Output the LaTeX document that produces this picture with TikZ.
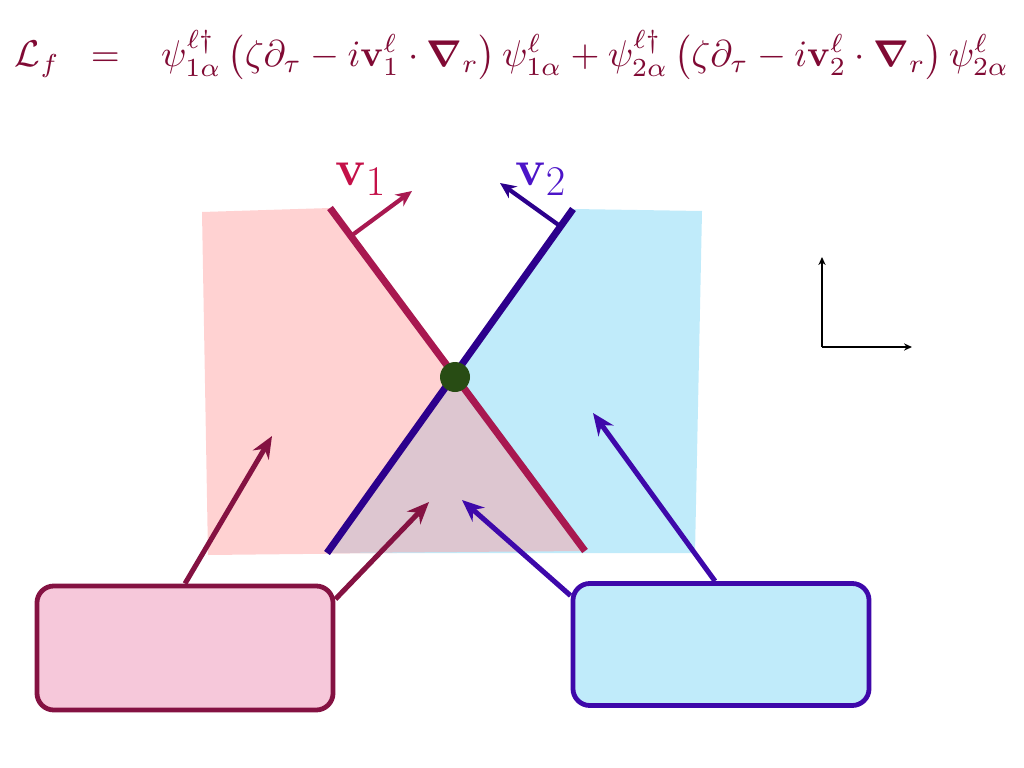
\documentclass[tikz,border=0pt]{standalone}
\usepackage{amsmath,bm}
\usepackage{graphicx}
\usetikzlibrary{arrows.meta,calc}

\begin{document}
\begin{tikzpicture}[x=0.025cm,y=-0.025cm,
 wall/.style={line width=5pt},
 kick/.style={line width=3.6pt,-{Stealth[length=5.5mm,width=4.6mm]}},
 patch/.style={line width=3.4pt,rounded corners=12pt,minimum width=7.4cm,minimum height=3.1cm,inner sep=0pt}]

\definecolor{eqred}{RGB}{128,10,52}
\definecolor{redwall}{RGB}{168,24,80}
\definecolor{bluewall}{RGB}{44,0,140}
\definecolor{redlabel}{RGB}{196,16,72}
\definecolor{bluelabel}{RGB}{76,20,200}
\definecolor{redarrow}{RGB}{132,18,66}
\definecolor{bluearrow}{RGB}{62,8,170}
\definecolor{pinkzone}{RGB}{255,210,210}
\definecolor{bluezone}{RGB}{192,235,250}
\definecolor{mixzone}{RGB}{221,198,208}
\definecolor{pinkbox}{RGB}{246,200,218}
\definecolor{bluebox}{RGB}{192,235,250}
\definecolor{nodegreen}{RGB}{40,76,20}

\useasboundingbox (0,0) rectangle (1024,768);

\node[text=eqred,inner sep=0pt] (lagr) at (512,55)
 {\resizebox{24.85cm}{!}{$\mathcal{L}_f \;\;=\;\;\;
 \psi^{\ell\dagger}_{1\alpha}\left(\zeta\partial_\tau - i\mathbf{v}^\ell_1\cdot\bm{\nabla}_r\right)\psi^\ell_{1\alpha}
 + \psi^{\ell\dagger}_{2\alpha}\left(\zeta\partial_\tau - i\mathbf{v}^\ell_2\cdot\bm{\nabla}_r\right)\psi^\ell_{2\alpha}$}};

\coordinate (ra) at (330,208);
\coordinate (rb) at (585,551);
\coordinate (ba) at (327,553);
\coordinate (bb) at (573,209);
\coordinate (cross) at (455,377);

\fill[pinkzone] (202,212) -- (ra) -- (rb) -- (208,555) -- cycle;
\fill[bluezone] (bb) -- (702,211) -- (695,553) -- (ba) -- cycle;
\fill[mixzone] (cross) -- (rb) -- (ba) -- cycle;

\draw[wall,redwall] (ra) -- (rb);
\draw[wall,bluewall] (ba) -- (bb);
\node[circle,fill=nodegreen,minimum size=0.75cm,inner sep=0pt] (dot) at (cross) {};

\coordinate (vonebase) at (351,236);
\coordinate (vonetip) at (412,191);
\coordinate (vtwobase) at (560,226);
\coordinate (vtwotip) at (500,183);
\draw[line width=3pt,redwall,-{Stealth[length=4mm,width=3.6mm]}] (vonebase) -- (vonetip);
\draw[line width=3pt,bluewall,-{Stealth[length=4mm,width=3.6mm]}] (vtwobase) -- (vtwotip);
\node[text=redlabel,font=\Huge,scale=1.45] (vonelab) at (361,179) {$\mathbf{v}_1$};
\node[text=bluelabel,font=\Huge,scale=1.45] (vtwolab) at (541,179) {$\mathbf{v}_2$};

\coordinate (origin) at (822,347);
\coordinate (yend) at (822,257);
\coordinate (xend) at (912,347);
\draw[line width=1.4pt,-{Stealth[length=2mm,width=1.8mm]}] (origin) -- (yend);
\draw[line width=1.4pt,-{Stealth[length=2mm,width=1.8mm]}] (origin) -- (xend);

\node[patch,draw=redarrow,fill=pinkbox] (boxone) at (185,648) {};
\node[patch,draw=bluearrow,fill=bluebox,minimum height=3.05cm] (boxtwo) at (721,644.5) {};

\coordinate (pinktip) at (272,436);
\coordinate (mixtipone) at (429,502);
\coordinate (mixtiptwo) at (462,500);
\coordinate (bluetip) at (593,413);
\draw[kick,redarrow] (boxone.north) -- (pinktip);
\draw[kick,redarrow] (boxone.18) -- (mixtipone);
\draw[kick,bluearrow] (boxtwo.162) -- (mixtiptwo);
\draw[kick,bluearrow] ($(boxtwo.north)+(-6,0)$) -- (bluetip);

\end{tikzpicture}
\end{document}
